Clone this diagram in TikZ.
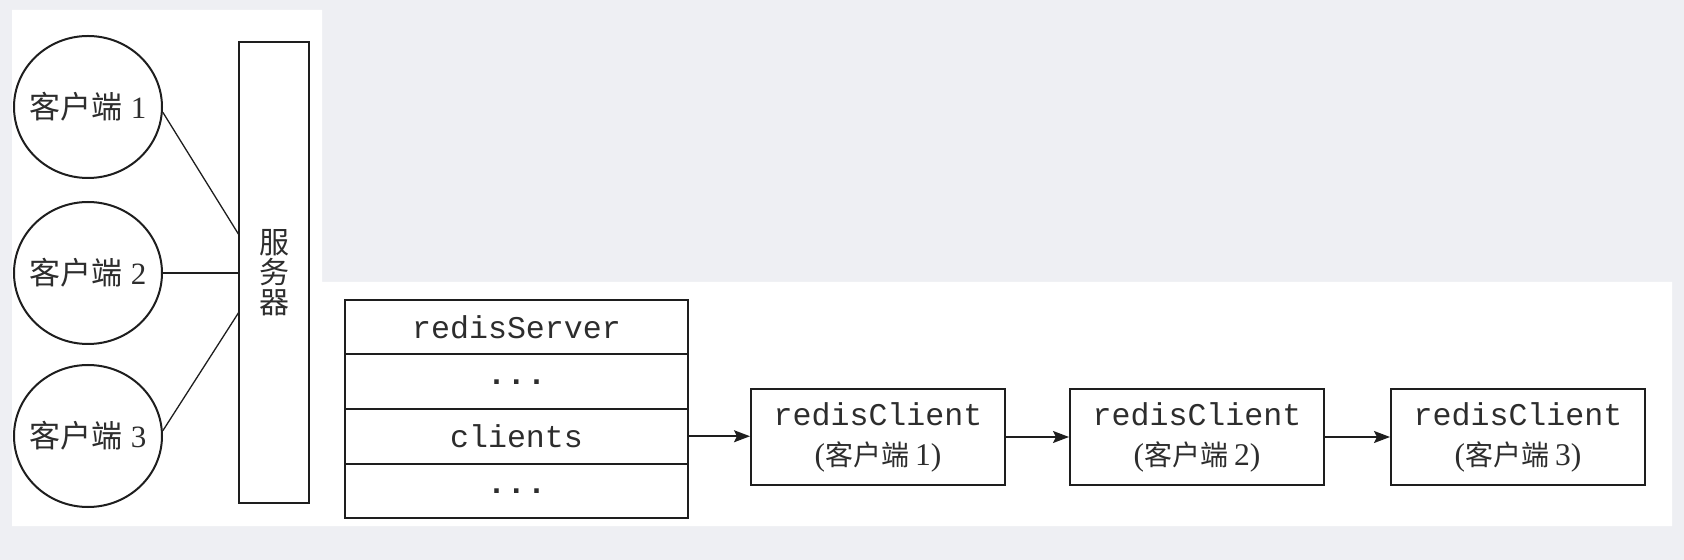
\documentclass[tikz,border=0pt]{standalone}
\usepackage{fontspec}
\setmainfont{Liberation Serif}
\setmonofont{Liberation Mono}
\newfontfamily\cjk{Noto Sans CJK SC}
\usetikzlibrary{shapes.geometric,arrows.meta}
\definecolor{bggray}{RGB}{238,239,243}
\definecolor{ink}{RGB}{30,30,30}
\definecolor{txt}{RGB}{45,45,45}
\newcommand{\mydots}{\makebox[10pt][c]{\bfseries .}\makebox[10pt][c]{\bfseries .}\makebox[10pt][c]{\bfseries .}}
\begin{document}
\begin{tikzpicture}[x=0.5pt,y=-0.5pt,
  clientcircle/.style={ellipse,draw=ink,line width=1pt,minimum width=74pt,minimum height=71pt,inner sep=0pt},
  circtext/.style={text=txt,inner sep=0pt,font=\fontsize{15.5pt}{18pt}\selectfont},
  serverbox/.style={rectangle,draw=ink,line width=1pt,minimum width=35pt,minimum height=230.5pt,inner sep=0pt,text=txt,align=center,font=\cjk\fontsize{15pt}{15pt}\selectfont},
  tablerow/.style={rectangle,draw=ink,line width=1pt,minimum width=171.5pt,minimum height=27.25pt,inner sep=0pt,text=txt,font=\ttfamily\fontsize{15.8pt}{18pt}\selectfont},
  clientbox/.style={rectangle,draw=ink,line width=1pt,minimum width=127pt,minimum height=48pt,inner sep=0pt,text=txt,align=center,font=\fontsize{15.8pt}{20pt}\selectfont},
  link/.style={draw=ink,line width=0.65pt},
  ptr/.style={draw=ink,line width=0.8pt,-{Stealth[length=8pt,width=6pt,inset=1.5pt]}}
]
\useasboundingbox (0,0) rectangle (1684,560);
\fill[bggray] (0,0) rectangle (1684,560);
\fill[white] (12,10) -- (322,10) -- (322,282) -- (1672,282) -- (1672,526) -- (12,526) -- cycle;

% left diagram
\node[clientcircle,label={[circtext]center:{\cjk 客户端}\hspace{4pt}1}] (c1) at (88,107) {};
\node[clientcircle,label={[circtext]center:{\cjk 客户端}\hspace{4pt}2}] (c2) at (88,273) {};
\node[clientcircle,label={[circtext]center:{\cjk 客户端}\hspace{4pt}3}] (c3) at (88,436) {};
\node[serverbox] (srv) at (274,272.5) {服\\务\\器};
\coordinate (s1) at (239,235);
\coordinate (s3) at (239,312);
\draw[link] (c1.-4) -- (s1);
\draw[link] (c2.east) -- (c2.east -| srv.west);
\draw[link] (c3.4) -- (s3);

% right diagram
\node[tablerow] (r1) at (516.5,327.25) {redisServer};
\node[tablerow] (r2) at (516.5,381.75) {\mydots};
\node[tablerow] (r3) at (516.5,436.25) {clients};
\node[tablerow] (r4) at (516.5,490.75) {\mydots};

\node[clientbox] (k1) at (878,437) {{\ttfamily redisClient}\\({\cjk\fontsize{14pt}{20pt}\selectfont 客户端}\hspace{3pt}1)};
\node[clientbox] (k2) at (1197,437) {{\ttfamily redisClient}\\({\cjk\fontsize{14pt}{20pt}\selectfont 客户端}\hspace{3pt}2)};
\node[clientbox] (k3) at (1518,437) {{\ttfamily redisClient}\\({\cjk\fontsize{14pt}{20pt}\selectfont 客户端}\hspace{3pt}3)};

\draw[ptr] (r3.east) -- (r3.east -| k1.west);
\draw[ptr] (k1.east) -- (k2.west);
\draw[ptr] (k2.east) -- (k3.west);
\end{tikzpicture}
\end{document}
